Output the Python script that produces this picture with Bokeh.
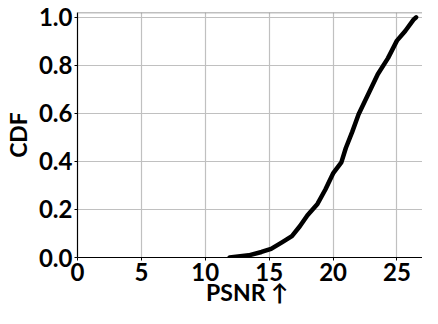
from bokeh.plotting import figure
from bokeh.models import Range1d, FixedTicker, PrintfTickFormatter, Span
from bokeh.embed import file_html
from bokeh.resources import INLINE

# CDF of PSNR
psnr = [11.9, 13.4, 14.4, 15.15, 16.0, 16.78, 17.4, 18.0, 18.78, 19.4, 20.0, 20.65, 21.0, 21.5,
        22.0, 22.9, 23.5, 24.3, 25.0, 25.65, 26.3, 26.5]
cdf = [0.0, 0.009, 0.023, 0.036, 0.063, 0.089, 0.13, 0.176, 0.223, 0.283, 0.35, 0.396, 0.456, 0.523,
       0.596, 0.696, 0.763, 0.83, 0.903, 0.943, 0.99, 1.0]
x_ticks = [0, 5, 10, 15, 20, 25]
y_ticks = [0.0, 0.2, 0.4, 0.6, 0.8, 1.0]
x_title = "PSNR  \u2191"
y_title = "CDF"

FONT = "Lato"

p = figure(width=422, height=308, output_backend="svg", toolbar_location=None,
           x_range=Range1d(0, 27), y_range=Range1d(0, 1.02),
           min_border_left=70, min_border_right=0, min_border_top=12, min_border_bottom=50)
p.outline_line_color = None
p.background_fill_color = "white"
p.border_fill_color = "white"

p.line(psnr, cdf, line_color="black", line_width=4.5, line_join="round", line_cap="round")

p.add_layout(Span(location=1.02, dimension="width", line_color="#808080", line_width=1.5))

for ax in (p.xaxis, p.yaxis):
    ax.axis_line_color = "black"
    ax.axis_line_width = 1.2
    ax.major_tick_line_color = "black"
    ax.major_tick_in = 0
    ax.major_tick_out = 3
    ax.minor_tick_line_color = None
    ax.major_label_text_font = FONT
    ax.major_label_text_font_style = "bold"
    ax.major_label_text_font_size = "24px"
    ax.major_label_text_color = "black"
    ax.axis_label_text_font = FONT
    ax.axis_label_text_font_style = "bold"
    ax.axis_label_text_font_size = "23px"
    ax.axis_label_text_color = "black"

p.xaxis.ticker = FixedTicker(ticks=x_ticks)
p.yaxis.ticker = FixedTicker(ticks=y_ticks)
p.yaxis.formatter = PrintfTickFormatter(format="%.1f")
p.xaxis.axis_label = x_title
p.yaxis.axis_label = y_title
p.xaxis.major_label_standoff = 2
p.yaxis.major_label_standoff = 2
p.xaxis.axis_label_standoff = -6
p.yaxis.axis_label_standoff = 4

p.xgrid.ticker = FixedTicker(ticks=x_ticks)
p.ygrid.ticker = FixedTicker(ticks=y_ticks)
p.grid.grid_line_color = "#c0c0c0"
p.grid.grid_line_width = 1.2

open("out.html", "w").write(file_html(p, INLINE))
